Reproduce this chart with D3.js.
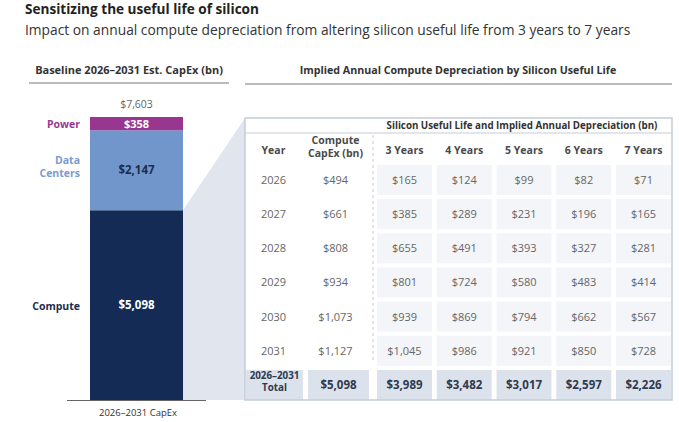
<!DOCTYPE html>
<html>
<head>
<meta charset="utf-8">
<script src="https://cdn.jsdelivr.net/npm/d3@7"></script>
<style>
  body { margin: 0; background: #fff; }
  svg { font-family: "Open Sans", Lato, sans-serif; }
</style>
</head>
<body>
<script>
// Baseline capex stack (bn)
const segNames = ['Compute', 'Data Centers', 'Power'];
const segValues = [5098, 2147, 358];
const segTotal = 7603;

// Table data
const years = ['2026', '2027', '2028', '2029', '2030', '2031'];
const computeCapex = [494, 661, 808, 934, 1073, 1127];
const lives = ['3 Years', '4 Years', '5 Years', '6 Years', '7 Years'];
const dep3 = [165, 385, 655, 801, 939, 1045];
const dep4 = [124, 289, 491, 724, 869, 986];
const dep5 = [99, 231, 393, 580, 794, 921];
const dep6 = [82, 196, 327, 483, 662, 850];
const dep7 = [71, 165, 281, 414, 567, 728];
const capexTotal = 5098;
const depTotals = [3989, 3482, 3017, 2597, 2226];

const W = 679, H = 422;
const money = d3.format('$,');
const segColors = ['#142b55', '#7196cb', '#993790'];
const segLabelColors = ['#1c2d50', '#7a9bd0', '#993790'];

const svg = d3.select('body').append('svg')
    .attr('width', W)
    .attr('height', H);

// scale a text's font so it spans the wanted width
function fit(sel, w) {
    const len = sel.node().getComputedTextLength();
    const fs = parseFloat(sel.style('font-size'));
    if (len > 0) sel.style('font-size', (fs * w / len) + 'px');
}

// Titles
svg.append('text')
    .attr('x', 25).attr('y', 14)
    .style('font-size', '14px').style('font-weight', 700).style('fill', '#222')
    .text('Sensitizing the useful life of silicon')
    .call(fit, 234);
svg.append('text')
    .attr('x', 25).attr('y', 35)
    .style('font-size', '14px').style('fill', '#333')
    .text('Impact on annual compute depreciation from altering silicon useful life from 3 years to 7 years')
    .call(fit, 606);

// Section headers
svg.append('text')
    .attr('x', 129).attr('y', 74)
    .attr('text-anchor', 'middle')
    .style('font-size', '9.5px').style('font-weight', 700).style('fill', '#333')
    .text('Baseline 2026\u20132031 Est. CapEx (bn)')
    .call(fit, 188);
svg.append('line')
    .attr('x1', 29).attr('x2', 229).attr('y1', 83).attr('y2', 83)
    .style('stroke', '#777').style('stroke-width', 1);
svg.append('text')
    .attr('x', 458).attr('y', 74)
    .attr('text-anchor', 'middle')
    .style('font-size', '9.5px').style('font-weight', 700).style('fill', '#333')
    .text('Implied Annual Compute Depreciation by Silicon Useful Life')
    .call(fit, 317);
svg.append('line')
    .attr('x1', 245).attr('x2', 672).attr('y1', 84).attr('y2', 84)
    .style('stroke', '#777').style('stroke-width', 1);

// Stacked bar
const y = d3.scaleLinear().domain([0, segTotal]).range([400, 117]);
const barX = 90, barW = 93;

let stack = [];
let acc = 0;
segValues.forEach(function(v, i) {
    stack.push({ name: segNames[i], value: v, y0: acc, y1: acc + v, i: i });
    acc += v;
});

// table geometry
const tLeft = 245, tRight = 672, tTop = 118, tHead = 133, tBottom = 400;

// connector shape from compute segment to table
svg.append('path')
    .attr('d', d3.line()([
        [barX + barW, y(segValues[0])],
        [tLeft, tTop],
        [tLeft, tBottom],
        [barX + barW, y(0)]
    ]) + 'Z')
    .style('fill', '#e0e5ee');

svg.selectAll('.seg')
    .data(stack)
    .enter()
    .append('rect')
    .attr('class', 'seg')
    .attr('x', barX)
    .attr('width', barW)
    .attr('y', d => y(d.y1))
    .attr('height', d => y(d.y0) - y(d.y1))
    .style('fill', d => segColors[d.i]);

svg.selectAll('.segval')
    .data(stack)
    .enter()
    .append('text')
    .attr('x', barX + barW / 2)
    .attr('y', d => d.i === 1 ? y(d.y1) + 40 : y((d.y0 + d.y1) / 2))
    .attr('dy', '0.35em')
    .attr('text-anchor', 'middle')
    .style('font-size', d => d.i === 2 ? '11px' : '11.5px').style('font-weight', 700)
    .style('fill', d => d.i === 1 ? '#1c2d50' : '#fff')
    .text(d => money(d.value));

// side labels
const labY = [306, 164, 124];
svg.append('text').attr('x', 80).attr('y', labY[0]).attr('dy', '0.35em')
    .attr('text-anchor', 'end')
    .style('font-size', '10.5px').style('font-weight', 700).style('fill', segLabelColors[0])
    .text(segNames[0]);
svg.append('text').attr('x', 80).attr('y', labY[1]).attr('dy', '0.35em')
    .attr('text-anchor', 'end')
    .style('font-size', '10.5px').style('font-weight', 700).style('fill', segLabelColors[1])
    .selectAll('tspan')
    .data(['Data', 'Centers'])
    .enter().append('tspan')
    .attr('x', 80)
    .attr('dy', (d, i) => i === 0 ? 0 : 13)
    .text(d => d);
svg.append('text').attr('x', 80).attr('y', labY[2]).attr('dy', '0.35em')
    .attr('text-anchor', 'end')
    .style('font-size', '10.5px').style('font-weight', 700).style('fill', segLabelColors[2])
    .text(segNames[2]);

svg.append('text')
    .attr('x', barX + barW / 2).attr('y', y(segTotal) - 9)
    .attr('text-anchor', 'middle')
    .style('font-size', '10.5px').style('fill', '#666')
    .text(money(segTotal));

svg.append('line')
    .attr('x1', 67).attr('x2', 206).attr('y1', 400.5).attr('y2', 400.5)
    .style('stroke', '#666').style('stroke-width', 1);
svg.append('text')
    .attr('x', 138).attr('y', 416)
    .attr('text-anchor', 'middle')
    .style('font-size', '9.5px').style('fill', '#333')
    .text('2026\u20132031 CapEx');

// Table
const rowKeys = years.concat(['total']);
const rowY = d3.scaleBand().domain(rowKeys).range([165, 400]).paddingInner(0.12);
const colX = d3.scaleBand().domain(lives).range([377, 671]).paddingInner(0.08);
const yearCol = [246, 303], capCol = [308, 369];

svg.append('rect')
    .attr('x', tLeft).attr('y', tTop)
    .attr('width', tRight - tLeft).attr('height', tBottom - tTop)
    .style('fill', '#fff');

// data cell backgrounds
const depSeries = [dep3, dep4, dep5, dep6, dep7];
years.forEach(function(yr) {
    svg.selectAll(null)
        .data(lives)
        .enter()
        .append('rect')
        .attr('x', d => colX(d))
        .attr('y', rowY(yr))
        .attr('width', colX.bandwidth())
        .attr('height', rowY.bandwidth())
        .style('fill', '#f3f5f9');
});

// total row backgrounds
const totFill = '#dce2eb';
svg.append('rect').attr('x', yearCol[0]).attr('y', rowY('total'))
    .attr('width', yearCol[1] - yearCol[0]).attr('height', tBottom - rowY('total'))
    .style('fill', totFill);
svg.append('rect').attr('x', capCol[0]).attr('y', rowY('total'))
    .attr('width', capCol[1] - capCol[0]).attr('height', tBottom - rowY('total'))
    .style('fill', totFill);
svg.selectAll('.totcell')
    .data(lives)
    .enter()
    .append('rect')
    .attr('x', d => colX(d))
    .attr('y', rowY('total'))
    .attr('width', colX.bandwidth())
    .attr('height', tBottom - rowY('total'))
    .style('fill', totFill);

// border and header line
svg.append('rect')
    .attr('x', tLeft).attr('y', tTop)
    .attr('width', tRight - tLeft).attr('height', tBottom - tTop)
    .style('fill', 'none').style('stroke', '#c5cdd9').style('stroke-width', 1.5);
svg.append('line')
    .attr('x1', tLeft).attr('x2', tRight).attr('y1', tHead).attr('y2', tHead)
    .style('stroke', '#c5cdd9').style('stroke-width', 1.2);

// dashed separator
svg.append('line')
    .attr('x1', 373).attr('x2', 373).attr('y1', tHead + 2).attr('y2', rowY('total') - 8)
    .style('stroke', '#c9c9c9').style('stroke-width', 1).style('stroke-dasharray', '3,3');

svg.append('text')
    .attr('x', 522).attr('y', tHead - 4)
    .attr('text-anchor', 'middle')
    .style('font-size', '8.8px').style('font-weight', 700).style('fill', '#333')
    .text('Silicon Useful Life and Implied Annual Depreciation (bn)')
    .call(fit, 271);

// column headers
const headY = 150;
const yearX = (yearCol[0] + yearCol[1]) / 2 - 1;
const capX = (capCol[0] + capCol[1]) / 2 - 3;
const headStyle = function(sel) {
    sel.style('font-size', '10.5px').style('font-weight', 700).style('fill', '#4a4a4a');
};
svg.append('text').attr('x', yearX).attr('y', headY).attr('dy', '0.35em')
    .attr('text-anchor', 'middle')
    .call(headStyle)
    .text('Year');
svg.append('text').attr('x', capX).attr('y', headY - 6.5).attr('dy', '0.35em')
    .attr('text-anchor', 'middle')
    .call(headStyle)
    .selectAll('tspan')
    .data(['Compute', 'CapEx (bn)'])
    .enter().append('tspan')
    .attr('x', capX)
    .attr('dy', (d, i) => i === 0 ? 0 : 13)
    .text(d => d);
svg.selectAll('.colhead')
    .data(lives)
    .enter()
    .append('text')
    .attr('x', d => colX(d) + colX.bandwidth() / 2)
    .attr('y', headY)
    .attr('dy', '0.35em')
    .attr('text-anchor', 'middle')
    .call(headStyle)
    .text(d => d);

// body rows
const cellStyle = function(sel) {
    sel.attr('dy', '0.35em')
        .attr('text-anchor', 'middle')
        .style('font-size', '11px').style('fill', '#666');
};
years.forEach(function(yr, r) {
    const cy = rowY(yr) + rowY.bandwidth() / 2;
    svg.append('text').attr('x', yearX).attr('y', cy).call(cellStyle).text(yr);
    svg.append('text').attr('x', capX).attr('y', cy).call(cellStyle).text(money(computeCapex[r]));
    svg.selectAll(null)
        .data(lives)
        .enter()
        .append('text')
        .attr('x', d => colX(d) + colX.bandwidth() / 2)
        .attr('y', cy)
        .call(cellStyle)
        .text((d, c) => money(depSeries[c][r]));
});

// total row
const ty = rowY('total') + (tBottom - rowY('total')) / 2;
const totStyle = function(sel) {
    sel.attr('dy', '0.35em')
        .attr('text-anchor', 'middle')
        .style('font-size', '11.5px').style('font-weight', 700).style('fill', '#2e3a4f');
};
svg.append('text').attr('x', (yearCol[0] + yearCol[1]) / 2).attr('y', ty - 6)
    .call(totStyle).style('font-size', '9.8px')
    .selectAll('tspan')
    .data(['2026\u20132031', 'Total'])
    .enter().append('tspan')
    .attr('x', (yearCol[0] + yearCol[1]) / 2)
    .attr('dy', (d, i) => i === 0 ? 0 : 12)
    .text(d => d);
svg.append('text').attr('x', (capCol[0] + capCol[1]) / 2).attr('y', ty).call(totStyle).text(money(capexTotal));
svg.selectAll('.tot')
    .data(depTotals)
    .enter()
    .append('text')
    .attr('x', (d, i) => colX(lives[i]) + colX.bandwidth() / 2)
    .attr('y', ty)
    .call(totStyle)
    .text(d => money(d));
</script>
</body>
</html>
